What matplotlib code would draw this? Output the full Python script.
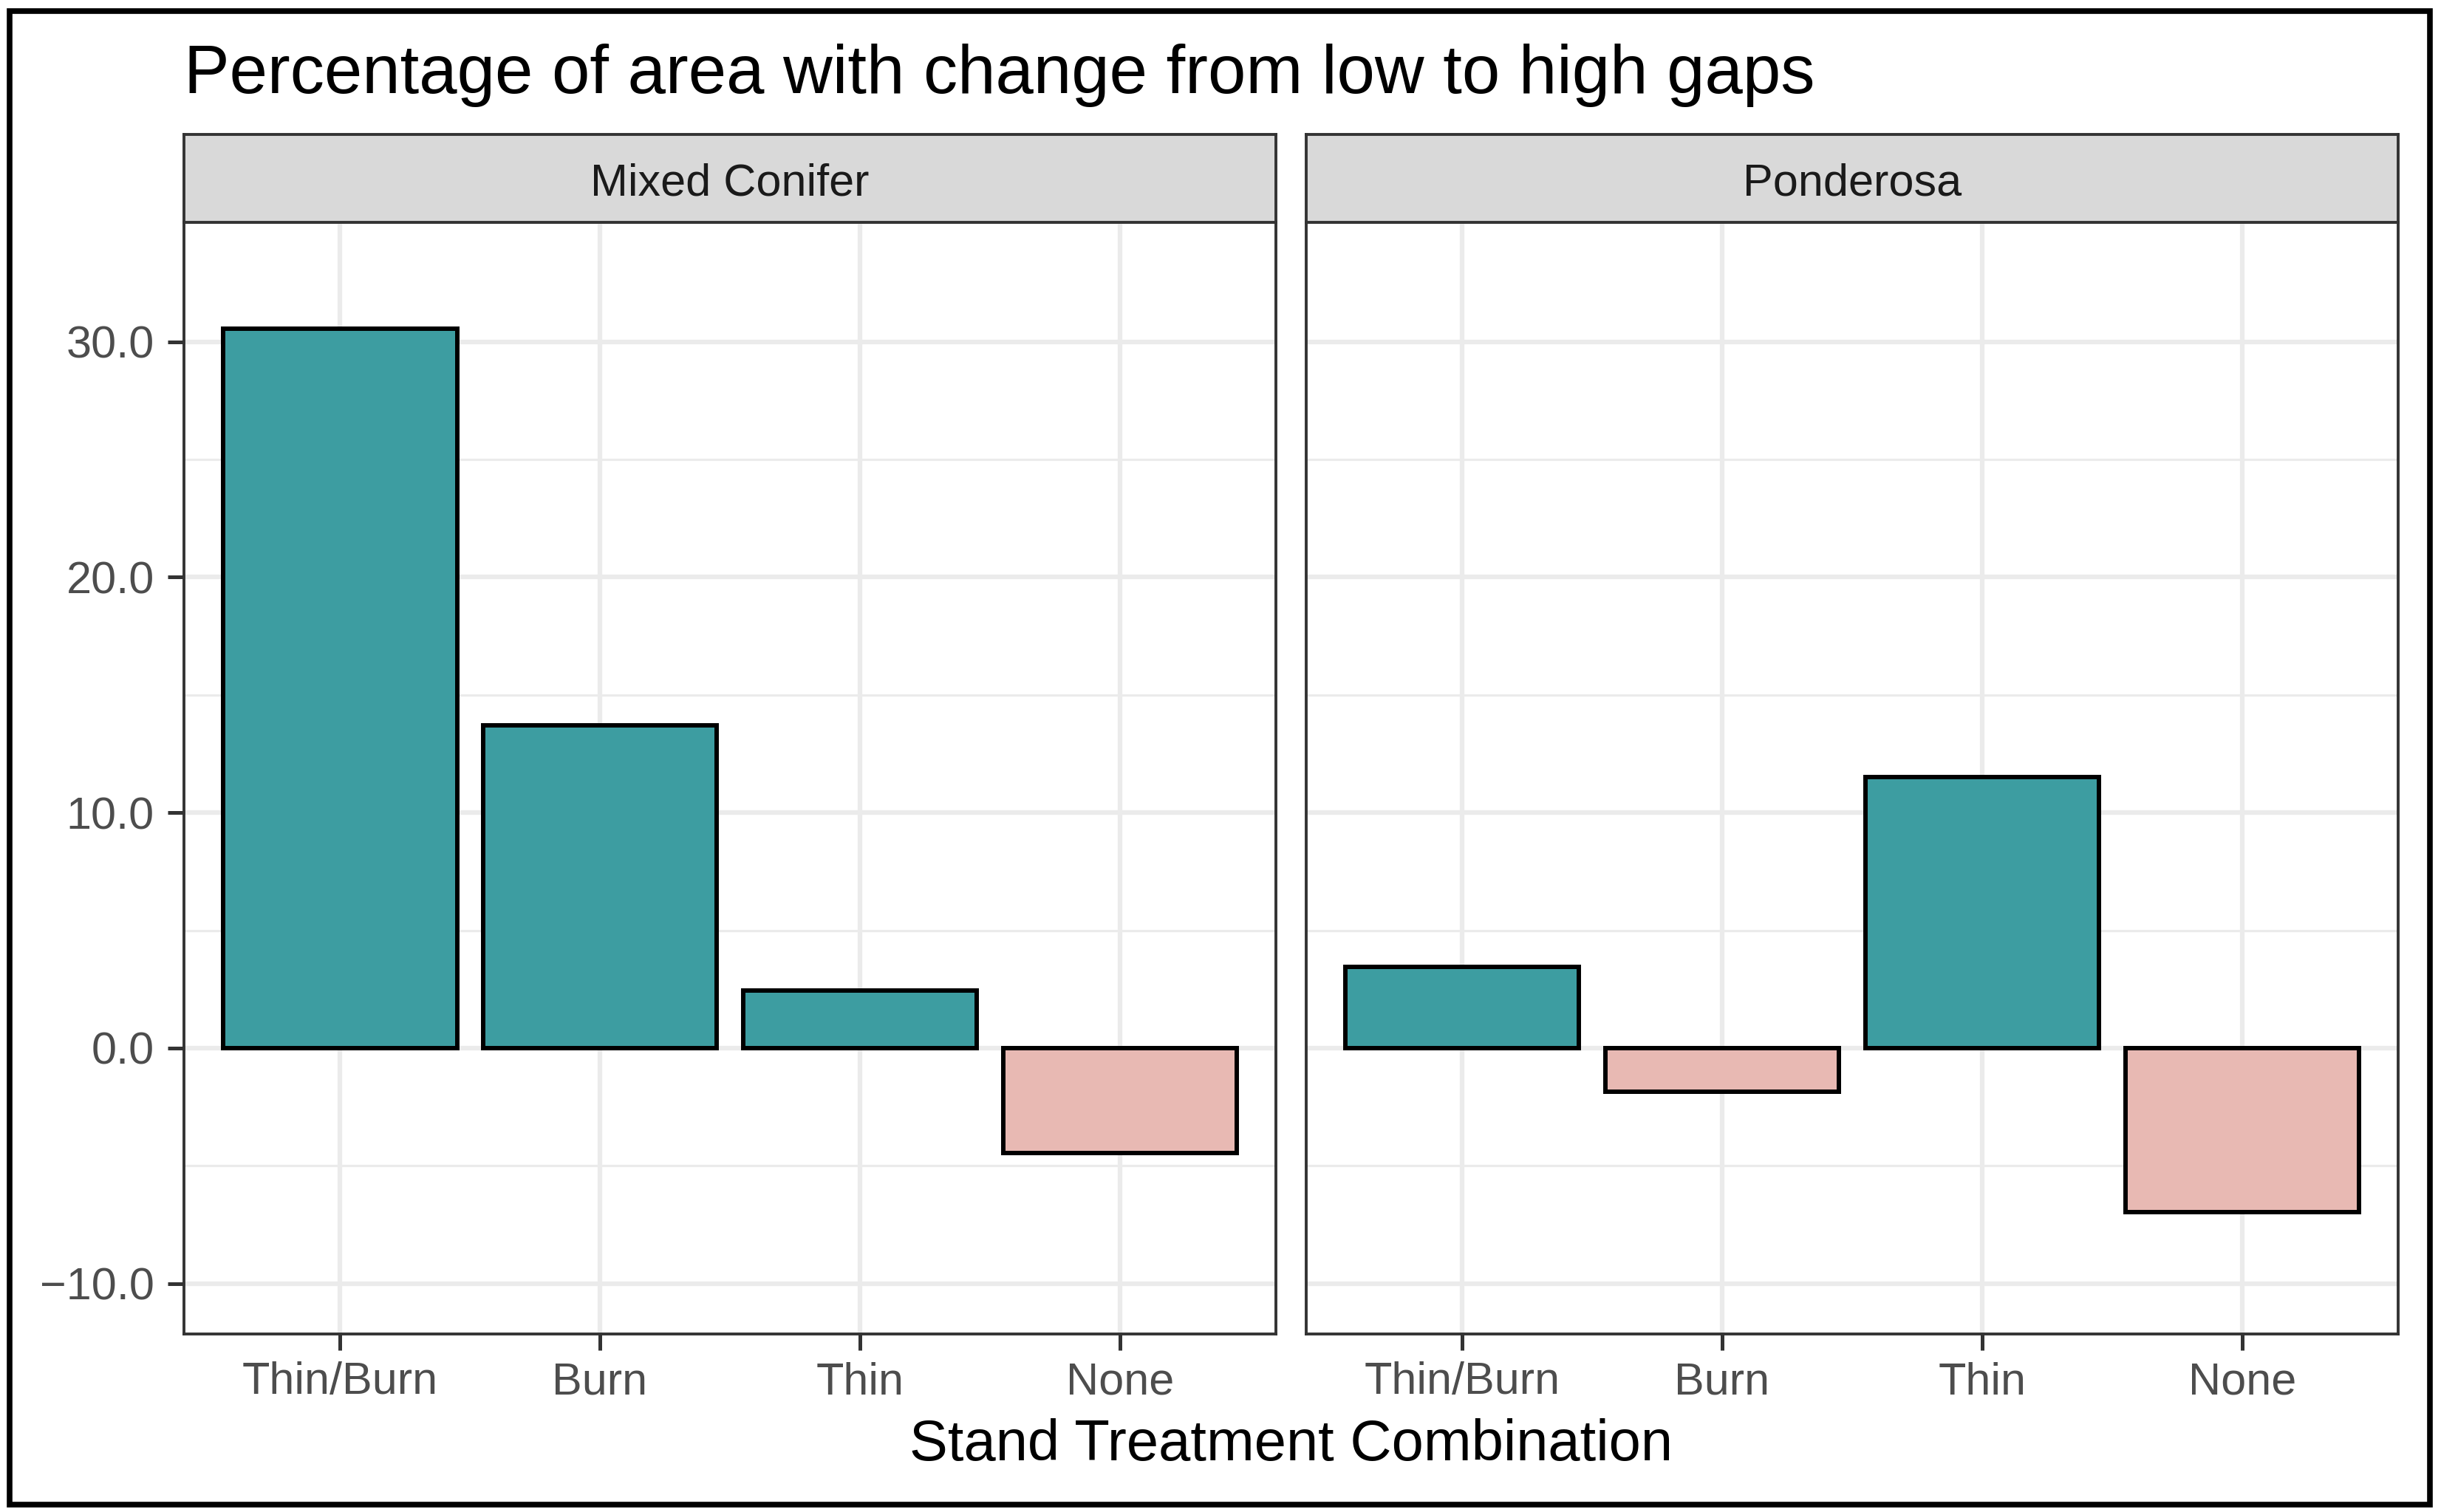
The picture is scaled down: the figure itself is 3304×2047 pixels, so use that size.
import matplotlib.pyplot as plt
from matplotlib.patches import Rectangle

plt.rcParams['font.family'] = ['Liberation Sans', 'DejaVu Sans']

# data
treatments = ['Thin/Burn', 'Burn', 'Thin', 'None']
forest_types = ['Mixed Conifer', 'Ponderosa']
mixed_conifer = [30.56, 13.7, 2.45, -4.44]
ponderosa = [3.44, -1.85, 11.5, -6.95]
y_ticks = [-10, 0, 10, 20, 30]
y_minor = [-5, 5, 15, 25]

teal = '#3D9DA1'
pink = '#E8B9B3'
grey20 = '#333333'

W, H = 3305, 2047
fig = plt.figure(figsize=(W / 100, H / 100), dpi=100)

# panel boxes in pixels (left, right), shared top/bottom
panels = [(249, 1727), (1768, 3246)]
top, bottom, strip_top = 301, 1806, 182

values = [mixed_conifer, ponderosa]
for i, (x0, x1) in enumerate(panels):
    ax = fig.add_axes([x0 / W, 1 - bottom / H, (x1 - x0) / W, (bottom - top) / H])
    vals = values[i]
    pos = list(range(1, len(treatments) + 1))
    colors = [teal if v >= 0 else pink for v in vals]
    ax.bar(pos, vals, width=0.9, color=colors, edgecolor='black', linewidth=4.3, zorder=3)

    ax.set_xlim(0.4, 4.6)
    ax.set_ylim(-12.14, 35.07)
    ax.set_xticks(pos)
    ax.set_xticklabels(treatments)
    ax.set_yticks(y_ticks)
    ax.set_yticks(y_minor, minor=True)
    if i == 0:
        ax.set_yticklabels([f'{t:.1f}'.replace('-', '\u2212') for t in y_ticks])
    else:
        ax.tick_params(axis='y', which='major', left=False, labelleft=False)
    ax.tick_params(axis='y', which='minor', left=False)

    ax.grid(True, which='major', color='#EBEBEB', linewidth=4.5, zorder=0)
    ax.grid(True, which='minor', axis='y', color='#EBEBEB', linewidth=2.3, zorder=0)
    ax.set_axisbelow(True)
    ax.tick_params(axis='both', which='major', length=16, width=3.6, color=grey20,
                   labelsize=44, labelcolor='#4D4D4D')
    ax.tick_params(axis='x', pad=11)
    ax.tick_params(axis='y', pad=13)
    for sp in ax.spines.values():
        sp.set_color(grey20)
        sp.set_linewidth(2.8)
        sp.set_zorder(4)

    # facet strip
    sax = fig.add_axes([x0 / W, 1 - top / H, (x1 - x0) / W, (top - strip_top) / H])
    sax.set_facecolor('#D9D9D9')
    sax.set_xticks([])
    sax.set_yticks([])
    for sp in sax.spines.values():
        sp.set_color(grey20)
        sp.set_linewidth(2.8)
    sax.text(0.5, 0.44, forest_types[i], ha='center', va='center', fontsize=44,
             color='#1A1A1A', transform=sax.transAxes)

fig.text(249 / W, 1 - 126 / H, 'Percentage of area with change from low to high gaps',
         fontsize=66.5, ha='left', va='baseline', color='black')
fig.text((249 + 3246) / 2 / W, 1 - 1977 / H, 'Stand Treatment Combination',
         fontsize=56, ha='center', va='baseline', color='black')

# outer black frame
fig.patches.append(Rectangle((13 / W, 1 - 2037 / H), (3289 - 13) / W, (2037 - 15) / H,
                             transform=fig.transFigure, fill=False,
                             edgecolor='black', linewidth=5.5))

fig.savefig('out.png', dpi=100)
